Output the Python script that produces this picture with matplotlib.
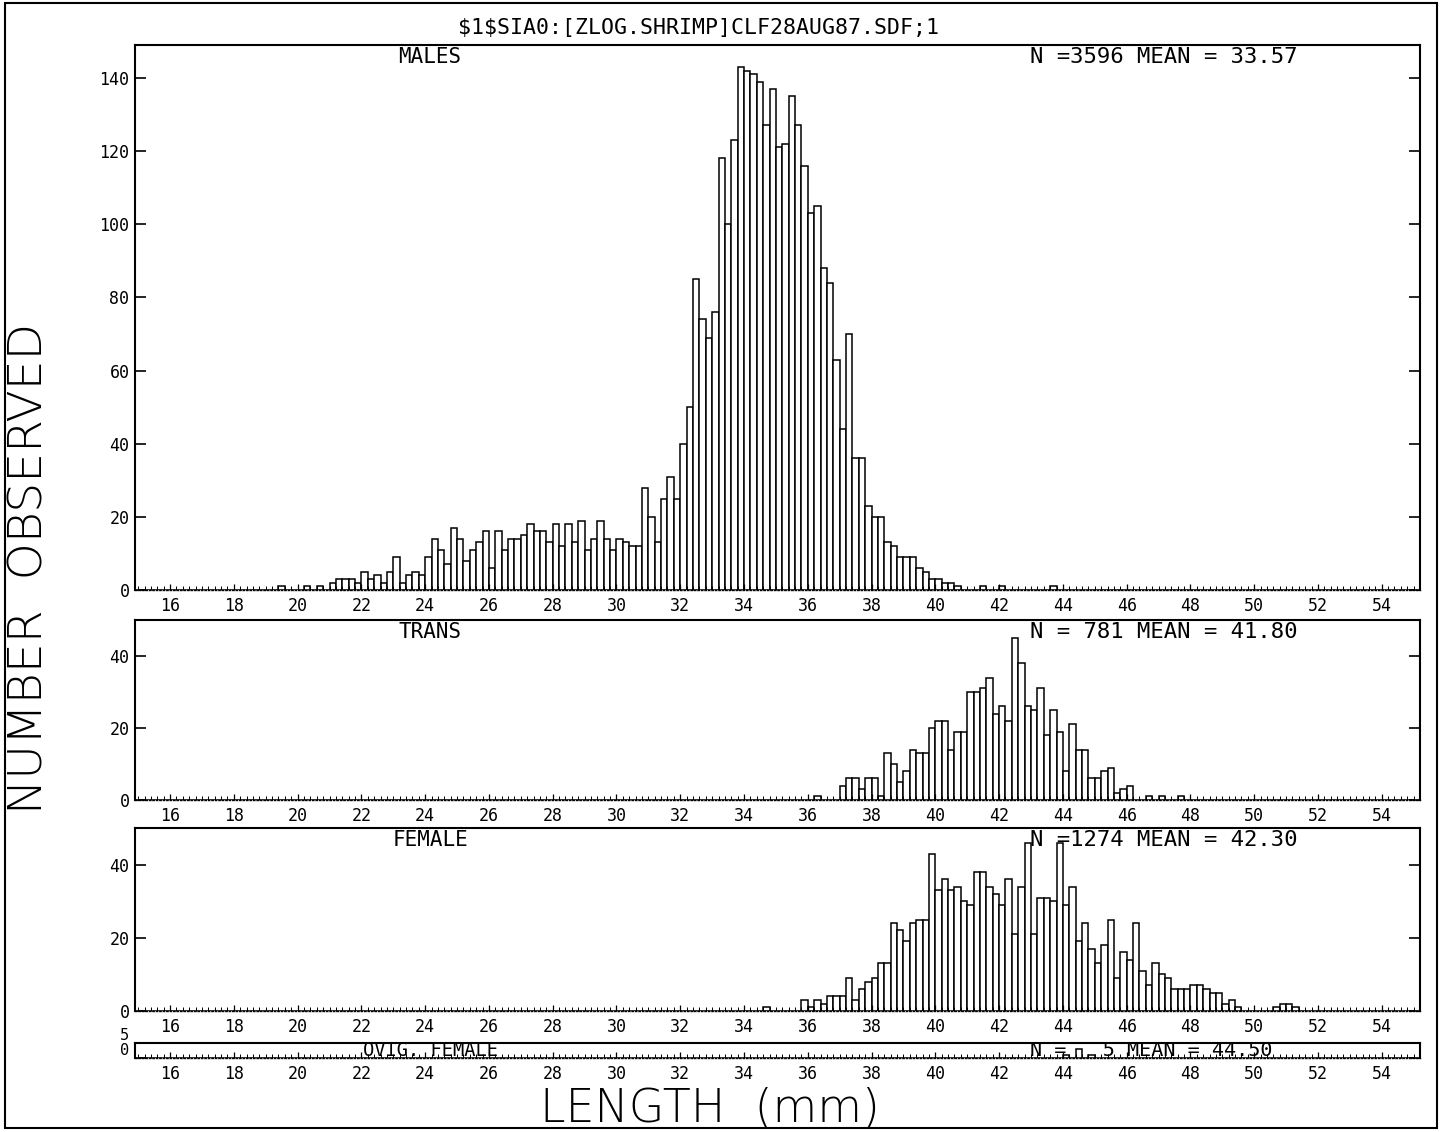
import matplotlib.pyplot as plt
from matplotlib.patches import Rectangle
import numpy as np

plt.rcParams['font.family'] = ['DejaVu Sans Mono']

# length-frequency counts, 0.2 mm bins starting at 15.0 mm (one row = 2 mm)
bin_start = 15.0
bin_width = 0.2

males = [
    0, 0, 0, 0, 0, 0, 0, 0, 0, 0,          # 15
    0, 0, 0, 0, 0, 0, 0, 0, 0, 0,          # 17
    0, 0, 1, 0, 0, 0, 1, 0, 1, 0,          # 19
    2, 3, 3, 3, 2, 5, 3, 4, 2, 5,          # 21
    9, 2, 4, 5, 4, 9, 14, 11, 7, 17,       # 23
    14, 8, 11, 13, 16, 6, 16, 11, 14, 14,  # 25
    15, 18, 16, 16, 13, 18, 12, 18, 13, 19,  # 27
    11, 14, 19, 14, 11, 14, 13, 12, 12, 28,  # 29
    20, 13, 25, 31, 25, 40, 50, 85, 74, 69,  # 31
    76, 118, 100, 123, 143, 142, 141, 139, 127, 137,  # 33
    121, 122, 135, 127, 116, 103, 105, 88, 84, 63,    # 35
    44, 70, 36, 36, 23, 20, 20, 13, 12, 9,   # 37
    9, 9, 6, 5, 3, 3, 2, 2, 1, 0,            # 39
    0, 0, 1, 0, 0, 1, 0, 0, 0, 0,            # 41
    0, 0, 0, 1, 0, 0, 0, 0, 0, 0,            # 43
    0, 0, 0, 0, 0, 0, 0, 0, 0, 0,            # 45
    0, 0, 0, 0, 0, 0, 0, 0, 0, 0,            # 47
    0, 0, 0, 0, 0, 0, 0, 0, 0, 0,            # 49
    0, 0, 0, 0, 0, 0, 0, 0, 0, 0,            # 51
    0, 0, 0, 0, 0, 0, 0, 0, 0, 0,            # 53
]

trans = [
    0, 0, 0, 0, 0, 0, 0, 0, 0, 0,          # 15
    0, 0, 0, 0, 0, 0, 0, 0, 0, 0,          # 17
    0, 0, 0, 0, 0, 0, 0, 0, 0, 0,          # 19
    0, 0, 0, 0, 0, 0, 0, 0, 0, 0,          # 21
    0, 0, 0, 0, 0, 0, 0, 0, 0, 0,          # 23
    0, 0, 0, 0, 0, 0, 0, 0, 0, 0,          # 25
    0, 0, 0, 0, 0, 0, 0, 0, 0, 0,          # 27
    0, 0, 0, 0, 0, 0, 0, 0, 0, 0,          # 29
    0, 0, 0, 0, 0, 0, 0, 0, 0, 0,          # 31
    0, 0, 0, 0, 0, 0, 0, 0, 0, 0,          # 33
    0, 0, 0, 0, 0, 0, 1, 0, 0, 0,          # 35
    4, 6, 6, 3, 6, 6, 1, 13, 10, 5,        # 37
    8, 14, 13, 13, 20, 22, 22, 14, 19, 19,  # 39
    30, 30, 31, 34, 24, 26, 22, 45, 38, 26,  # 41
    25, 31, 18, 25, 19, 8, 21, 14, 14, 6,    # 43
    6, 8, 9, 2, 3, 4, 0, 0, 1, 0,            # 45
    1, 0, 0, 1, 0, 0, 0, 0, 0, 0,            # 47
    0, 0, 0, 0, 0, 0, 0, 0, 0, 0,            # 49
    0, 0, 0, 0, 0, 0, 0, 0, 0, 0,            # 51
    0, 0, 0, 0, 0, 0, 0, 0, 0, 0,            # 53
]

female = [
    0, 0, 0, 0, 0, 0, 0, 0, 0, 0,          # 15
    0, 0, 0, 0, 0, 0, 0, 0, 0, 0,          # 17
    0, 0, 0, 0, 0, 0, 0, 0, 0, 0,          # 19
    0, 0, 0, 0, 0, 0, 0, 0, 0, 0,          # 21
    0, 0, 0, 0, 0, 0, 0, 0, 0, 0,          # 23
    0, 0, 0, 0, 0, 0, 0, 0, 0, 0,          # 25
    0, 0, 0, 0, 0, 0, 0, 0, 0, 0,          # 27
    0, 0, 0, 0, 0, 0, 0, 0, 0, 0,          # 29
    0, 0, 0, 0, 0, 0, 0, 0, 0, 0,          # 31
    0, 0, 0, 0, 0, 0, 0, 0, 1, 0,          # 33
    0, 0, 0, 0, 3, 1, 3, 2, 4, 4,          # 35
    4, 9, 3, 6, 8, 9, 13, 13, 24, 22,      # 37
    19, 24, 25, 25, 43, 33, 36, 33, 34, 30,  # 39
    29, 38, 38, 34, 32, 29, 36, 21, 34, 46,  # 41
    21, 31, 31, 30, 46, 29, 34, 19, 24, 17,  # 43
    13, 18, 25, 9, 16, 14, 24, 11, 7, 13,    # 45
    10, 9, 6, 6, 6, 7, 7, 6, 5, 5,           # 47
    2, 3, 1, 0, 0, 0, 0, 0, 1, 2,            # 49
    2, 1, 0, 0, 0, 0, 0, 0, 0, 0,            # 51
    0, 0, 0, 0, 0, 0, 0, 0, 0, 0,            # 53
]

ovig = [0] * 145 + [1, 0, 3, 0, 1] + [0] * 50

panel_names = ["MALES", "TRANS", "FEMALE", "OVIG. FEMALE"]
panel_stats = ["N =3596 MEAN = 33.57",
               "N = 781 MEAN = 41.80",
               "N =1274 MEAN = 42.30",
               "N =   5 MEAN = 44.50"]
panel_ymax = [149, 50, 50, 5]
panel_yticks = [[0, 20, 40, 60, 80, 100, 120, 140], [0, 20, 40], [0, 20, 40], [0, 5]]
x_ticks = list(range(16, 55, 2))

W, H = 1441, 1132
# panel boxes in pixels: (top, bottom)
panel_px = [(45, 590), (620, 800), (828, 1011), (1043, 1058)]
left_px, right_px = 135, 1420

fig = plt.figure(figsize=(W / 100, H / 100), dpi=100)

edges = bin_start + bin_width * np.arange(len(males))
series = [males, trans, female, ovig]

for i, counts in enumerate(series):
    top, bot = panel_px[i]
    ax = fig.add_axes([left_px / W, 1 - bot / H, (right_px - left_px) / W, (bot - top) / H])
    ax.bar(edges, counts, width=bin_width, align='edge', facecolor='white',
           edgecolor='black', linewidth=1.1)
    ax.set_xlim(14.9, 55.2)
    ax.set_ylim(0, panel_ymax[i])
    ax.set_xticks(x_ticks)
    ax.set_xticks(np.arange(15, 55.01, 0.2), minor=True)
    ax.set_yticks(panel_yticks[i])
    ax.tick_params(axis='x', which='minor', direction='in', length=3, width=0.7)
    ax.tick_params(axis='x', which='major', direction='in', length=4, width=0.9,
                   labelsize=12, pad=5)
    ax.tick_params(axis='y', direction='in', length=8, width=1.2, right=True,
                   labelsize=12, pad=4)
    for s in ['left', 'right', 'top']:
        ax.spines[s].set_linewidth(1.5)
    ax.spines['bottom'].set_linewidth(1.0)
    ax.spines['bottom'].set_linestyle((0, (1, 1.5)))
    if i < 3:
        ty = 1.0 - 2.0 / (bot - top)
        va = 'top'
        fs = 15
    else:
        ty, va, fs = 0.5, 'center', 13.5
        # tiny panel: sit the 0 and 5 labels just above their ticks
        for lab in ax.get_yticklabels():
            lab.set_verticalalignment('bottom')
            lab.set_fontsize(11)
    ax.text(0.2296, ty, panel_names[i], transform=ax.transAxes, ha='center',
            va=va, fontsize=fs)
    ax.text(0.6965, ty, panel_stats[i], transform=ax.transAxes,
            ha='left', va=va, fontsize=fs + 1)

fig.text(698 / W, 1 - 28 / H, r"\$1\$SIA0:[ZLOG.SHRIMP]CLF28AUG87.SDF;1",
         ha='center', va='center', fontsize=15.5)
fig.text(30 / W, 1 - 568 / H, "NUMBER  OBSERVED", rotation=90, ha='center',
         va='center', fontsize=34, family='DejaVu Sans', fontweight='ultralight')
fig.text(710 / W, 1 - 1108 / H, "LENGTH  (mm)", ha='center', va='center',
         fontsize=33, family='DejaVu Sans', fontweight='ultralight')

fig.add_artist(Rectangle((5 / W, 1 - 1128 / H), 1432 / W, 1125 / H,
                         transform=fig.transFigure, fill=False,
                         edgecolor='black', linewidth=1.5))

fig.savefig("out.png", dpi=100)
